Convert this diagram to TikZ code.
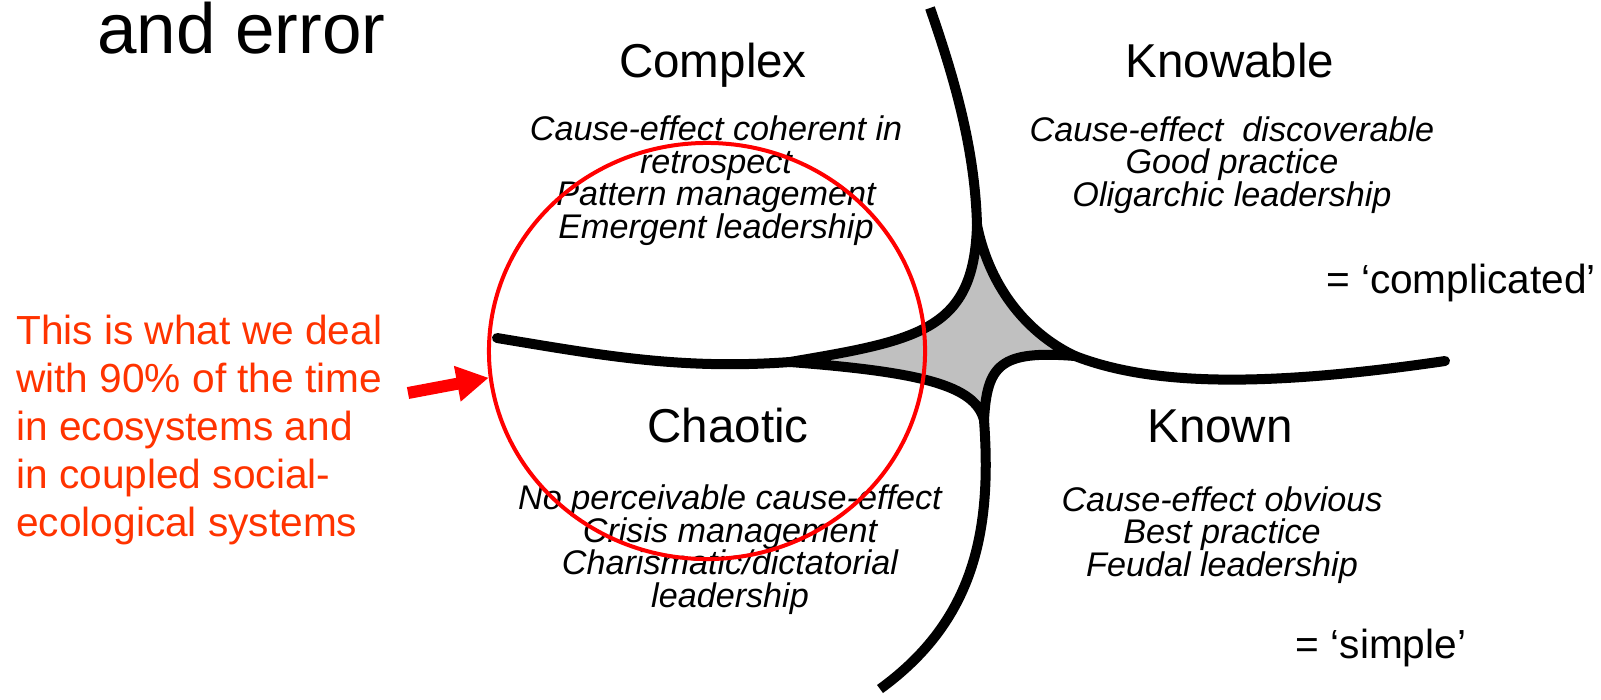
\documentclass[tikz,border=0pt]{standalone}
\usepackage{fontspec}
\setmainfont{Liberation Sans}
\usetikzlibrary{shapes.geometric,arrows.meta}
\lineskiplimit=-20pt

\begin{document}
\begin{tikzpicture}[x=0.025cm, y=-0.025cm]
	\definecolor{hubgray}{RGB}{192,192,192}
	\definecolor{notered}{RGB}{255,51,0}

	\tikzset{
		rim/.style      = {draw=black, line width=0.25cm, line join=round},
		zonename/.style = {font=\fontsize{33.8}{40}\selectfont, anchor=base},
		zonetext/.style = {font=\fontsize{24.3}{23}\selectfont\itshape, align=center, anchor=base},
		nickname/.style = {font=\fontsize{28.9}{34}\selectfont, anchor=base},
		notetext/.style = {font=\fontsize{28.9}{34.1}\selectfont, text=notered, align=left, anchor=base west, inner sep=0pt}
	}

	\useasboundingbox (0,0) rectangle (1601,699);

	%% Draw central hub
	\draw[rim, fill=hubgray] (977,225)
		.. controls (974,330) and (920,340) .. (790,362)
		.. controls (920,372) and (975,385) .. (984,420)
		.. controls (987,365) and (1000,350) .. (1075,356)
		.. controls (1030,335) and (990,290) .. cycle;

	%% Draw arms
	\draw[rim, line cap=butt]  (930,8)    .. controls (955,80)   and (975,150)  .. (977,225);
	\draw[rim, line cap=round] (1075,356) .. controls (1150,385) and (1260,388) .. (1445,361);
	\draw[rim, line cap=butt]  (984,420)  .. controls (992,530)  and (975,620)  .. (880,689);
	\draw[rim, line cap=round] (497,338)  .. controls (600,355)  and (680,370)  .. (790,362);

	%% Draw title rest
	\node[font=\fontsize{50.5}{60}\selectfont, anchor=base west, inner sep=0pt] (title) at (97,53) {and error};

	%% Draw zone names
	\node[zonename] (complex)  at (713,77)   {Complex};
	\node[zonename] (knowable) at (1230,77)  {Knowable};
	\node[zonename] (chaotic)  at (728,442)  {Chaotic};
	\node[zonename] (known)    at (1220,442) {Known};

	%% Draw zone texts (anchored at last line)
	\node[zonetext] (complextext)  at (716,238)  {Cause-effect coherent in\\retrospect\\Pattern management\\Emergent leadership};
	\node[zonetext] (knowabletext) at (1232,206) {Cause-effect\ \ discoverable\\Good practice\\Oligarchic leadership};
	\node[zonetext] (chaotictext)  at (730,607)  {No perceivable cause-effect\\Crisis management\\Charismatic/dictatorial\\leadership};
	\node[zonetext] (knowntext)    at (1222,576) {Cause-effect obvious\\Best practice\\Feudal leadership};

	\node[nickname] (complicated) at (1461,293) {= ‘complicated’};
	\node[nickname] (simple)      at (1381,658) {= ‘simple’};

	%% Draw focus ring and note
	\node[ellipse, draw=red, line width=0.1cm, minimum width=10.9cm, minimum height=10.4cm, inner sep=0pt] (focus) at (707,351) {};
	\node[notetext] (note) at (16,536) {This is what we deal\\with 90\% of the time\\in ecosystems and\\in coupled social-\\ecological systems};
	\coordinate (tail) at (408,393);
	\draw[red, line width=0.3cm, -{Triangle[length=0.8cm, width=0.85cm]}] (tail) -- (focus.187);
\end{tikzpicture}
\end{document}
